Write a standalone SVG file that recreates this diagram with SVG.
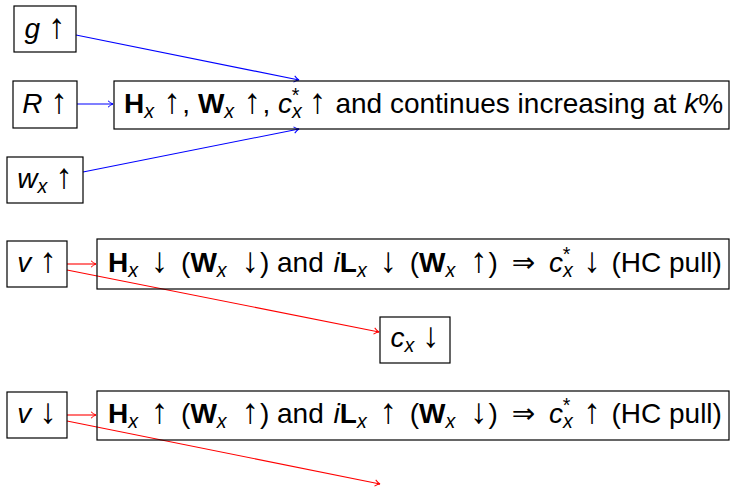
<svg xmlns="http://www.w3.org/2000/svg" width="730" height="487" viewBox="0 0 730 487">
<defs>
<style>
.box{fill:none;stroke:#000;stroke-width:1.2}
text{font-family:"Liberation Sans","DejaVu Sans",sans-serif;fill:#000;font-size:28px}
.i{font-style:italic}
.b{font-weight:bold}
.sub{font-size:70%;font-style:italic}
.sup{font-size:70%}
.ar{font-size:125%}
.blue{stroke:#0000ff;stroke-width:1.1;fill:none}
.red{stroke:#ff0000;stroke-width:1.1;fill:none}
</style>
<marker id="ab" viewBox="-6 -4 7 8" markerWidth="7" markerHeight="8" refX="0" refY="0" orient="auto" markerUnits="userSpaceOnUse">
<path d="M-5,-3.2 Q-2,-0.5 0,0 Q-2,0.5 -5,3.2" fill="none" stroke="#0000ff" stroke-width="1"/>
</marker>
<marker id="ar" viewBox="-6 -4 7 8" markerWidth="7" markerHeight="8" refX="0" refY="0" orient="auto" markerUnits="userSpaceOnUse">
<path d="M-5,-3.2 Q-2,-0.5 0,0 Q-2,0.5 -5,3.2" fill="none" stroke="#ff0000" stroke-width="1"/>
</marker>
</defs>
<rect width="730" height="487" fill="#fff"/>

<g id="connectors">
<line class="blue" x1="76" y1="35" x2="299" y2="80" marker-end="url(#ab)"/>
<line class="blue" x1="77" y1="104" x2="113" y2="104" marker-end="url(#ab)"/>
<line class="blue" x1="83" y1="172" x2="299" y2="129" marker-end="url(#ab)"/>
<line class="red" x1="67" y1="264" x2="96" y2="264" marker-end="url(#ar)"/>
<line class="red" x1="67" y1="270" x2="379" y2="332" marker-end="url(#ar)"/>
<line class="red" x1="67" y1="415" x2="96" y2="415" marker-end="url(#ar)"/>
<line class="red" x1="67" y1="421" x2="380" y2="484" marker-end="url(#ar)"/>
</g>

<g id="g-up">
<rect class="box" x="14" y="6" width="62" height="46"/>
<text x="45" y="38" text-anchor="middle"><tspan class="i">g</tspan> <tspan class="ar">↑</tspan></text>
</g>
<g id="R-up">
<rect class="box" x="13" y="81" width="64" height="47"/>
<text x="45" y="113" text-anchor="middle"><tspan class="i">R</tspan> <tspan class="ar">↑</tspan></text>
</g>
<g id="wx-up">
<rect class="box" x="7" y="157" width="76" height="46"/>
<text x="45" y="188" text-anchor="middle"><tspan class="i">w</tspan><tspan class="sub" dy="5">x</tspan><tspan dy="-5"> </tspan><tspan class="ar">↑</tspan></text>
</g>
<g id="result-top">
<rect class="box" x="114" y="81" width="615" height="48"/>
<text x="124" y="113"><tspan class="b">H</tspan><tspan class="sub" dy="5">x</tspan><tspan dy="-5" dx="1.5"> </tspan><tspan class="ar">↑</tspan><tspan dx="1.5">, </tspan><tspan class="b">W</tspan><tspan class="sub" dy="5">x</tspan><tspan dy="-5" dx="1.5"> </tspan><tspan class="ar">↑</tspan><tspan dx="1.5">, </tspan><tspan class="i">c</tspan><tspan class="sub" dy="5">x</tspan><tspan class="sup" dx="-10" dy="-16">*</tspan><tspan dy="11" dx="1.5"> </tspan><tspan class="ar">↑</tspan><tspan dx="1.5"> and continues increasing at </tspan><tspan class="i">k</tspan>%</text>
</g>

<g id="v-up">
<rect class="box" x="7" y="241" width="60" height="46"/>
<text x="37" y="272" text-anchor="middle"><tspan class="i">v</tspan> <tspan class="ar">↑</tspan></text>
</g>
<g id="result-vup">
<rect class="box" x="97" y="239" width="632" height="50"/>
<text x="108" y="272"><tspan class="b">H</tspan><tspan class="sub" dy="5">x</tspan><tspan dy="-5" dx="5"> </tspan><tspan class="ar">↓</tspan><tspan dx="5"> (</tspan><tspan class="b">W</tspan><tspan class="sub" dy="5">x</tspan><tspan dy="-5" dx="7"> </tspan><tspan class="ar">↓</tspan><tspan dx="1">) and </tspan><tspan class="i" dx="2">i</tspan><tspan class="b">L</tspan><tspan class="sub" dy="5">x</tspan><tspan dy="-5" dx="5"> </tspan><tspan class="ar">↓</tspan><tspan dx="5"> (</tspan><tspan class="b">W</tspan><tspan class="sub" dy="5">x</tspan><tspan dy="-5" dx="7"> </tspan><tspan class="ar">↑</tspan><tspan dx="1">) </tspan><tspan dx="6">⇒</tspan><tspan dx="6"> </tspan><tspan class="i">c</tspan><tspan class="sub" dy="5">x</tspan><tspan class="sup" dx="-10" dy="-16">*</tspan><tspan dy="11" dx="5"> </tspan><tspan class="ar">↓</tspan><tspan dx="3"> (HC pull)</tspan></text>
</g>
<g id="cx-down">
<rect class="box" x="380" y="317" width="70" height="46"/>
<text x="415" y="347" text-anchor="middle"><tspan class="i">c</tspan><tspan class="sub" dy="5">x</tspan><tspan dy="-5"> </tspan><tspan class="ar">↓</tspan></text>
</g>

<g id="v-down">
<rect class="box" x="7" y="392" width="60" height="46"/>
<text x="37" y="423" text-anchor="middle"><tspan class="i">v</tspan> <tspan class="ar">↓</tspan></text>
</g>
<g id="result-vdown">
<rect class="box" x="97" y="391" width="632" height="49"/>
<text x="108" y="423"><tspan class="b">H</tspan><tspan class="sub" dy="5">x</tspan><tspan dy="-5" dx="5"> </tspan><tspan class="ar">↑</tspan><tspan dx="5"> (</tspan><tspan class="b">W</tspan><tspan class="sub" dy="5">x</tspan><tspan dy="-5" dx="7"> </tspan><tspan class="ar">↑</tspan><tspan dx="1">) and </tspan><tspan class="i" dx="2">i</tspan><tspan class="b">L</tspan><tspan class="sub" dy="5">x</tspan><tspan dy="-5" dx="5"> </tspan><tspan class="ar">↑</tspan><tspan dx="5"> (</tspan><tspan class="b">W</tspan><tspan class="sub" dy="5">x</tspan><tspan dy="-5" dx="7"> </tspan><tspan class="ar">↓</tspan><tspan dx="1">) </tspan><tspan dx="6">⇒</tspan><tspan dx="6"> </tspan><tspan class="i">c</tspan><tspan class="sub" dy="5">x</tspan><tspan class="sup" dx="-10" dy="-16">*</tspan><tspan dy="11" dx="5"> </tspan><tspan class="ar">↑</tspan><tspan dx="3"> (HC pull)</tspan></text>
</g>
</svg>
